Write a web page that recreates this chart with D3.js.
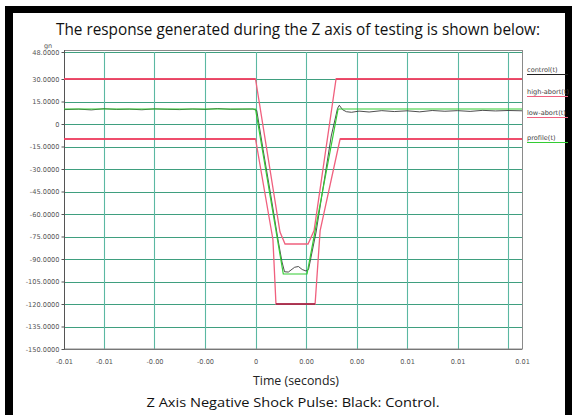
<!DOCTYPE html>
<html><head><meta charset="utf-8">
<script src="https://cdn.jsdelivr.net/npm/d3@7"></script>
<style>body{margin:0;background:#fff}svg{display:block}</style>
</head><body><svg id="c" width="576" height="415"></svg>
<script>
// ---- data (time in ms, values in gn) ----
const xDomainMs = [-7.584, 10.554];
const xTicksMs = [-7.584, -6, -4, -2, 0, 2, 4, 6, 8, 10, 10.554];
const xTickLabels = ["-0.01", "-0.01", "-0.00", "-0.00", "0", "0.00", "0.00", "0.01", "0.01", "", "0.01"];
const yTicks = [48, 30, 15, 0, -15, -30, -45, -60, -75, -90, -105, -120, -135, -150];
const yTickLabels = ["48.0000", "30.0000", "15.0000", "0", "-15.0000", "-30.0000", "-45.0000", "-60.0000",
  "-75.0000", "-90.0000", "-105.0000", "-120.0000", "-135.0000", "-150.0000"];

const profileT = [-7.584, 0, 1.10, 2.04, 3.27, 10.554];
const profileV = [10, 10, -100, -100, 10, 10];

const highAbortT = [-7.584, 0, 0.97, 1.17, 2.08, 2.32, 3.19, 10.554];
const highAbortV = [30, 30, -72, -80, -80, -71, 30, 30];

const lowAbortT = [-7.584, 0, 0.69, 0.81, 2.36, 2.56, 3.35, 10.554];
const lowAbortV = [-10, -10, -77, -120, -120, -71, -10, -10];

const controlT = [-7.584, -7.0, -6.5, -6.0, -5.5, -5.0, -4.5, -4.0, -3.5, -3.0, -2.5, -2.0, -1.5, -1.0, -0.5, -0.1,
  0.05, 0.3, 0.6, 0.9, 1.05, 1.15, 1.3, 1.55, 1.7, 1.85, 2.0, 2.1, 2.4, 2.7, 3.0, 3.25, 3.32, 3.45, 3.6, 3.8,
  4.1, 4.5, 5.0, 5.5, 6.0, 6.5, 7.0, 7.5, 8.0, 8.5, 9.0, 9.5, 10.0, 10.554];
const controlV = [9.6, 9.9, 9.4, 10.2, 9.7, 9.9, 9.5, 10.1, 9.8, 9.6, 10.0, 9.7, 10.3, 9.8, 9.9, 10.0,
  9.0, -17, -47, -78, -92, -98.5, -98.7, -95.5, -95, -97, -98, -97, -72, -40, -8, 10.5, 12.5, 9.5, 8.2, 7.8,
  8.6, 8.0, 8.9, 8.3, 8.8, 8.1, 9.0, 8.5, 8.9, 8.4, 9.1, 8.7, 9.0, 8.8];

const legendNames = ["control(t)", "high-abort(t)", "low-abort(t)", "profile(t)"];
const legendColors = ["#222", "#f0607e", "#f0607e", "#33cc33"];

// ---- drawing ----
const svg = d3.select("#c");
const L = 64, R = 522, T = 52, B = 349;
const x = d3.scaleLinear().domain(xDomainMs).range([L, R]);
const y = d3.scaleLinear().domain([-150, 48]).range([B, T]);

svg.append("rect").attr("width", 576).attr("height", 415).attr("fill", "#fff");
// black frame of the screenshot
svg.append("rect").attr("x", 5).attr("y", 6).attr("width", 567).attr("height", 7).attr("fill", "#000");
svg.append("rect").attr("x", 5).attr("y", 6).attr("width", 8).attr("height", 409).attr("fill", "#000");
svg.append("rect").attr("x", 565).attr("y", 6).attr("width", 7).attr("height", 409).attr("fill", "#000");

// title
svg.append("text").attr("x", 56).attr("y", 35).attr("font-family", "Open Sans").attr("font-size", 15.5)
  .attr("fill", "#111").attr("textLength", 484).attr("lengthAdjust", "spacingAndGlyphs")
  .text("The response generated during the Z axis of testing is shown below:");

// grid
const g = svg.append("g");
g.selectAll("line.hg").data(yTicks).join("line").attr("class", "hg")
  .attr("x1", L).attr("x2", R).attr("y1", d => Math.round(y(d)) + 0.5).attr("y2", d => Math.round(y(d)) + 0.5)
  .attr("stroke", "#3f9f7f").attr("stroke-width", 1.2);
g.selectAll("line.vg").data(xTicksMs.slice(1, -1)).join("line").attr("class", "vg")
  .attr("x1", d => Math.round(x(d)) + 0.5).attr("x2", d => Math.round(x(d)) + 0.5).attr("y1", T).attr("y2", B)
  .attr("stroke", "#5bb8a2").attr("stroke-width", 1.1);

// frame
g.append("rect").attr("x", L + 0.5).attr("y", T - 1.5).attr("width", R - L).attr("height", B - T + 1.5)
  .attr("fill", "none").attr("stroke", "#8a8a8a").attr("stroke-width", 1);
g.append("line").attr("x1", L + 0.5).attr("x2", L + 0.5).attr("y1", T - 2).attr("y2", B + 0.5).attr("stroke", "#555");
g.append("line").attr("x1", L).attr("x2", R).attr("y1", B + 0.5).attr("y2", B + 0.5).attr("stroke", "#777");

// y axis ticks + labels
const yAx = svg.append("g").attr("transform", `translate(${L + 0.5},0)`)
  .call(d3.axisLeft(y).tickValues(yTicks).tickSize(3).tickPadding(2).tickFormat((d, i) => yTickLabels[i]));
yAx.select(".domain").remove();
yAx.selectAll(".tick line").attr("stroke", "#555");
yAx.selectAll("text").attr("font-family", "DejaVu Sans").attr("font-size", 6.6).attr("fill", "#555");
svg.append("text").attr("x", 48).attr("y", 48).attr("font-family", "DejaVu Sans").attr("font-size", 6.5)
  .attr("fill", "#555").attr("text-anchor", "middle").text("gn");

// x axis labels
const xAx = svg.append("g").attr("transform", `translate(0,${B + 0.5})`)
  .call(d3.axisBottom(x).tickValues(xTicksMs).tickSize(0).tickPadding(10).tickFormat((d, i) => xTickLabels[i]));
xAx.select(".domain").remove();
xAx.selectAll("text").attr("font-family", "DejaVu Sans").attr("font-size", 6.6).attr("fill", "#555");

// series
const line = d3.line().x(d => x(d[0])).y(d => y(d[1]));
const zip = (a, b) => a.map((t, i) => [t, b[i]]);
const lowPts = zip(lowAbortT, lowAbortV);
const highPts = zip(highAbortT, highAbortV);
const pre = (pts, end) => pts.filter(p => p[0] <= end);

svg.append("path").attr("d", line(highPts)).attr("fill", "none").attr("stroke", "#f0607e").attr("stroke-width", 1.3);
svg.append("path").attr("d", line(lowPts)).attr("fill", "none").attr("stroke", "#f0607e").attr("stroke-width", 1.3);
// stronger red on the flat abort levels
svg.append("path").attr("d", line(pre(highPts, 0))).attr("fill", "none").attr("stroke", "#ee3a5c").attr("stroke-width", 1.6);
svg.append("path").attr("d", line(highPts.filter(p => p[0] >= 3.19))).attr("fill", "none").attr("stroke", "#ee3a5c").attr("stroke-width", 1.6);
svg.append("path").attr("d", line(pre(lowPts, 0))).attr("fill", "none").attr("stroke", "#ee3a5c").attr("stroke-width", 1.6);
svg.append("path").attr("d", line(lowPts.filter(p => p[0] >= 3.35))).attr("fill", "none").attr("stroke", "#ee3a5c").attr("stroke-width", 1.6);
svg.append("path").attr("d", line(lowPts.filter(p => p[1] <= -120))).attr("fill", "none").attr("stroke", "#9c1f40").attr("stroke-width", 1.6);

svg.append("path").attr("d", line(zip(controlT, controlV))).attr("fill", "none").attr("stroke", "#3a3a3a").attr("stroke-width", 0.9);
svg.append("path").attr("d", line(zip(profileT, profileV))).attr("fill", "none").attr("stroke", "#33cc33")
  .attr("stroke-width", 1.2);

// legend
const legY = [70, 92, 113, 138];
legendNames.forEach((n, i) => {
  svg.append("text").attr("x", 527).attr("y", legY[i] + 2).attr("font-family", "DejaVu Sans").attr("font-size", 6.6)
    .attr("fill", "#444").text(n);
  svg.append("line").attr("x1", 527).attr("x2", 568).attr("y1", legY[i] + 4.5).attr("y2", legY[i] + 4.5)
    .attr("stroke", legendColors[i]).attr("stroke-width", 1);
});

// axis title and caption
svg.append("text").attr("x", 296).attr("y", 385).attr("text-anchor", "middle").attr("font-family", "Open Sans")
  .attr("font-size", 12).attr("fill", "#222").attr("textLength", 86).attr("lengthAdjust", "spacingAndGlyphs")
  .text("Time (seconds)");
svg.append("text").attr("x", 293).attr("y", 407).attr("text-anchor", "middle").attr("font-family", "Open Sans")
  .attr("font-size", 13.5).attr("fill", "#111").attr("textLength", 293).attr("lengthAdjust", "spacingAndGlyphs")
  .text("Z Axis Negative Shock Pulse: Black: Control.");
</script></body></html>
